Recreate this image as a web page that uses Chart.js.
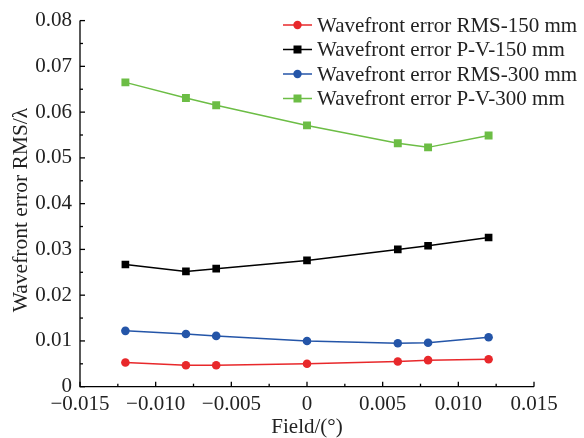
<!DOCTYPE html>
<html>
<head>
<meta charset="utf-8">
<script src="https://cdn.jsdelivr.net/npm/chart.js@4"></script>
<style>
html,body{margin:0;padding:0;background:#fff;}
#wrap{width:584px;height:438px;position:relative;}
</style>
</head>
<body>
<div id="wrap"><canvas id="c" width="584" height="438"></canvas></div>
<script>
const fieldValues = [-0.012, -0.008, -0.006, 0, 0.006, 0.008, 0.012];
const rms150 = [0.0053, 0.0047, 0.0047, 0.0050, 0.0055, 0.0058, 0.0060];
const pv150 = [0.0267, 0.0252, 0.0258, 0.0276, 0.0300, 0.0308, 0.0326];
const rms300 = [0.0122, 0.0115, 0.0111, 0.0100, 0.0095, 0.0096, 0.0108];
const pv300 = [0.0665, 0.0631, 0.0615, 0.0571, 0.0532, 0.0523, 0.0549];
const seriesNames = ["Wavefront error RMS-150 mm", "Wavefront error P-V-150 mm", "Wavefront error RMS-300 mm", "Wavefront error P-V-300 mm"];
const xTickValues = [-0.015, -0.010, -0.005, 0, 0.005, 0.010, 0.015];
const xTickLabels = ["\u22120.015", "\u22120.010", "\u22120.005", "0", "0.005", "0.010", "0.015"];
const yTickValues = [0, 0.01, 0.02, 0.03, 0.04, 0.05, 0.06, 0.07, 0.08];
const yTickLabels = ["0", "0.01", "0.02", "0.03", "0.04", "0.05", "0.06", "0.07", "0.08"];
const xTitle = "Field/(\u00b0)";
const yTitle = "Wavefront error RMS/\u03bb";

const FONT = "'Liberation Serif', 'Times New Roman', serif";
const colors = ["#e8282b", "#000000", "#2455a8", "#6cbd45"];
const styles = ["circle", "rect", "circle", "rect"];
const radii = [4.3, 5.4, 4.3, 5.6];
const allSeries = [rms150, pv150, rms300, pv300];

const datasets = allSeries.map((s, i) => ({
  label: seriesNames[i],
  data: s.map((v, j) => ({x: fieldValues[j], y: v})),
  borderColor: colors[i],
  backgroundColor: colors[i],
  borderWidth: 1.5,
  pointStyle: styles[i],
  pointRadius: radii[i],
  pointBorderWidth: 0,
  pointHoverRadius: radii[i],
  tension: 0
}));

const customDraw = {
  id: 'customDraw',
  afterDraw(chart) {
    const ctx = chart.ctx;
    const xs = chart.scales.x, ys = chart.scales.y;
    const ca = chart.chartArea;
    ctx.save();
    ctx.strokeStyle = '#000';
    ctx.lineWidth = 1.3;
    ctx.beginPath();
    ctx.moveTo(ca.left, ca.top);
    ctx.lineTo(ca.left, ca.bottom);
    ctx.lineTo(ca.right, ca.bottom);
    ctx.stroke();
    for (let i = 0; i < xTickValues.length; i++) {
      const px = xs.getPixelForValue(xTickValues[i]);
      ctx.beginPath(); ctx.moveTo(px, ca.bottom); ctx.lineTo(px, ca.bottom - 5); ctx.stroke();
      if (i < xTickValues.length - 1) {
        const mx = xs.getPixelForValue((xTickValues[i] + xTickValues[i + 1]) / 2);
        ctx.beginPath(); ctx.moveTo(mx, ca.bottom); ctx.lineTo(mx, ca.bottom - 3); ctx.stroke();
      }
    }
    for (let i = 0; i < yTickValues.length; i++) {
      const py = ys.getPixelForValue(yTickValues[i]);
      ctx.beginPath(); ctx.moveTo(ca.left, py); ctx.lineTo(ca.left + 5, py); ctx.stroke();
      if (i < yTickValues.length - 1) {
        const my = ys.getPixelForValue((yTickValues[i] + yTickValues[i + 1]) / 2);
        ctx.beginPath(); ctx.moveTo(ca.left, my); ctx.lineTo(ca.left + 3, my); ctx.stroke();
      }
    }
    ctx.fillStyle = '#222';
    ctx.textAlign = 'center';
    ctx.textBaseline = 'middle';
    ctx.font = "21px " + FONT;
    ctx.fillText(xTitle, (ca.left + ca.right) / 2, 427);
    ctx.save();
    ctx.translate(21, 210);
    ctx.rotate(-Math.PI / 2);
    ctx.font = "21.5px " + FONT;
    ctx.fillText(yTitle, 0, 0);
    ctx.restore();
    ctx.font = "21px " + FONT;
    ctx.textAlign = 'left';
    ctx.textBaseline = 'middle';
    const rowY = [25, 49.5, 74, 98.5];
    for (let i = 0; i < seriesNames.length; i++) {
      const y = rowY[i];
      ctx.strokeStyle = colors[i];
      ctx.lineWidth = 1.5;
      ctx.beginPath(); ctx.moveTo(283, y); ctx.lineTo(312, y); ctx.stroke();
      ctx.fillStyle = colors[i];
      if (styles[i] === 'circle') {
        ctx.beginPath(); ctx.arc(297.5, y, 4.2, 0, Math.PI * 2); ctx.fill();
      } else {
        ctx.fillRect(297.5 - 4, y - 4, 8, 8);
      }
      ctx.fillStyle = '#222';
      ctx.fillText(seriesNames[i], 317, y + 1);
    }
    ctx.restore();
  }
};

new Chart(document.getElementById('c'), {
  type: 'line',
  data: { datasets },
  options: {
    responsive: false,
    animation: false,
    devicePixelRatio: 1,
    layout: { padding: { top: 20, right: 50, left: 0, bottom: 0 } },
    plugins: { legend: { display: false }, tooltip: { enabled: false } },
    scales: {
      x: {
        type: 'linear',
        min: -0.015, max: 0.015,
        afterBuildTicks: (s) => { s.ticks = xTickValues.map(v => ({value: v})); },
        afterFit: (s) => { s.height = 51.3; },
        grid: { display: false, drawTicks: false },
        border: { display: false },
        ticks: {
          padding: 5,
          color: '#222',
          font: { family: FONT, size: 21 },
          maxRotation: 0,
          autoSkip: false,
          callback: (v, i) => xTickLabels[i]
        }
      },
      y: {
        type: 'linear',
        min: 0, max: 0.08,
        afterBuildTicks: (s) => { s.ticks = yTickValues.map(v => ({value: v})); },
        afterFit: (s) => { s.width = 80; },
        grid: { display: false, drawTicks: false },
        border: { display: false },
        ticks: {
          padding: 8,
          color: '#222',
          font: { family: FONT, size: 21 },
          autoSkip: false,
          callback: (v, i) => yTickLabels[i]
        }
      }
    }
  },
  plugins: [customDraw]
});
</script>
</body>
</html>
